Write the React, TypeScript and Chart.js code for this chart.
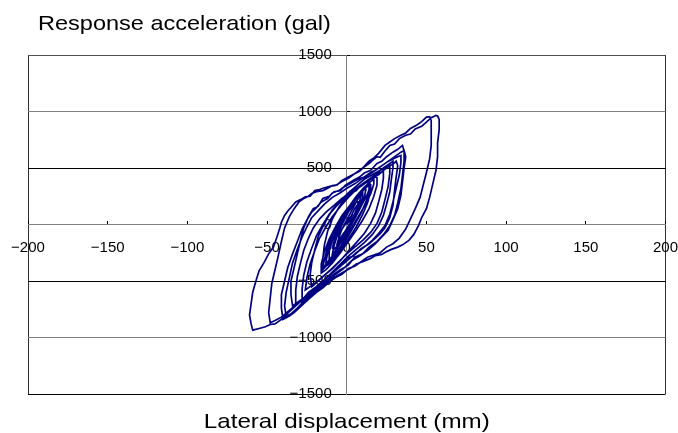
import React, { useEffect, useRef } from 'react';
import { Chart, registerables } from 'chart.js';

Chart.register(...registerables);

// ---- axis ranges and labels ----
const X_MIN = -200;
const X_MAX = 200;
const X_STEP = 50;
const Y_MIN = -1500;
const Y_MAX = 1500;
const Y_STEP = 500;
const yAxisTitle = 'Response acceleration (gal)';
const xAxisTitle = 'Lateral displacement (mm)';

// ---- hysteresis trace: [displacement mm, acceleration gal], in time order ----
const coreEarly: [number, number][] = [
  [0, 0], [3, 80], [5, 140], [6, 160], [6, 130], [4, 60], [1, -30], [-2, -100], [-5, -160], [-6, -170], [-5, -120], [-3, -40], [0, 40],
  [3, 120], [6, 200], [8, 250], [9, 260], [8, 200], [6, 110], [3, 10], [-1, -90], [-5, -190], [-8, -250], [-9, -260], [-8, -190], [-6, -100], [-3, 0],
  [1, 110], [5, 210], [9, 290], [11, 320], [12, 310], [11, 240], [8, 140], [4, 30], [0, -80], [-5, -190], [-9, -280], [-12, -330], [-13, -330], [-12, -250], [-10, -150], [-6, -40], [-2, 60],
  [3, 170], [8, 270], [12, 340], [14, 370], [15, 350], [13, 270], [9, 160], [5, 50], [0, -70], [-5, -190], [-10, -300], [-14, -370], [-15, -380], [-14, -310], [-12, -200], [-8, -80], [-4, 40],
  [1, 150], [6, 250], [11, 330], [15, 380], [17, 400], [17, 360], [15, 270], [11, 160], [6, 40], [1, -80], [-4, -200], [-9, -300], [-13, -370], [-15, -400],
];

const medLoop1: [number, number][] = [
  [-15, -300], [-14, -180], [-12, -60], [-9, 50], [-5, 150], [-1, 230], [3, 280], [6, 300], [9, 350], [13, 375], [16, 420], [20, 440], [23, 480], [27, 520], [30, 545], [31, 560],
  [32, 520], [31, 420], [30, 300], [29, 170], [27, 60], [24, -30], [21, -80], [18, -120], [14, -170], [9, -215], [4, -280], [0, -300], [-4, -370], [-9, -430], [-15, -500], [-20, -560], [-24, -600], [-27, -650], [-31, -690], [-34, -720],
];

const medLoop2: [number, number][] = [
  [-35, -620], [-35, -500], [-33, -380], [-31, -260], [-29, -140], [-27, -30], [-24, 70], [-21, 140], [-18, 160], [-15, 230], [-11, 250], [-8, 290], [-4, 300], [-1, 345], [4, 390], [8, 420], [11, 455], [15, 480], [19, 540], [22, 560], [25, 600], [29, 640], [32, 665], [35, 700],
  [36, 650], [36, 560], [35, 440], [34, 320], [32, 190], [30, 80], [27, -10], [23, -90], [19, -150], [14, -200], [10, -260], [5, -290], [1, -360], [-4, -400], [-8, -440], [-13, -500], [-18, -555], [-22, -600], [-26, -650], [-31, -700], [-36, -760], [-41, -820], [-45, -850], [-48, -870],
];

const bigLoop1: [number, number][] = [
  [-49, -780], [-48, -650], [-47, -520], [-45, -400], [-43, -280], [-41, -150], [-39, -30], [-36, 70], [-33, 140], [-30, 200], [-27, 230], [-24, 250], [-22, 275], [-19, 290], [-15, 300], [-12, 320], [-9, 345], [-6, 350], [-3, 390], [1, 420], [5, 450], [8, 470], [11, 510], [14, 540], [16, 565], [19, 600], [21, 595], [24, 650], [27, 700], [30, 712], [33, 760], [37, 790], [40, 800], [43, 845], [47, 870], [50, 905], [53, 945], [56, 965], [57, 960],
  [58, 930], [58, 840], [57, 720], [57, 600], [56, 480], [54, 360], [52, 240], [50, 140], [47, 60], [45, -10], [42, -90], [39, -140], [35, -180], [32, -200], [28, -220], [25, -240], [22, -265], [18, -275], [15, -300], [10, -330], [6, -350], [3, -380], [-2, -420], [-7, -460], [-11, -490], [-15, -540], [-20, -600], [-24, -640], [-28, -670], [-32, -720], [-36, -770], [-40, -830], [-43, -860], [-45, -880], [-48, -885], [-51, -905], [-55, -920], [-59, -935],
];

const bigLoop2: [number, number][] = [
  [-60, -880], [-61, -800], [-60, -700], [-59, -600], [-57, -500], [-55, -410], [-52, -340], [-49, -260], [-46, -200], [-44, -120], [-42, -30], [-41, 20], [-39, 80], [-37, 120], [-35, 150], [-32, 200], [-29, 220], [-26, 245], [-23, 250], [-20, 300], [-17, 310], [-14, 325], [-10, 340], [-7, 345], [-3, 380], [1, 410], [4, 440], [7, 470], [10, 500], [14, 560], [17, 590], [20, 630], [24, 700], [27, 730], [30, 760], [34, 790], [37, 810], [40, 850], [44, 880], [47, 910], [50, 950], [52, 955],
  [53, 920], [53, 820], [53, 700], [52, 580], [50, 460], [48, 350], [46, 240], [43, 140], [40, 50], [37, -40], [33, -120], [29, -170], [25, -200], [21, -250], [17, -270], [13, -290], [9, -330], [5, -370], [1, -390], [-3, -440], [-7, -470], [-11, -510], [-15, -560], [-19, -600], [-23, -650], [-27, -700], [-30, -740], [-33, -780], [-36, -810], [-40, -840],
];

const medLoop3: [number, number][] = [
  [-41, -740], [-41, -620], [-39, -500], [-37, -380], [-34, -260], [-31, -150], [-28, -40], [-25, 40], [-22, 110], [-19, 150], [-16, 200], [-12, 230], [-9, 280], [-5, 300], [-2, 330], [3, 370], [7, 400], [11, 420], [15, 460], [19, 490], [23, 530], [27, 570], [31, 610], [34, 640], [36, 655],
  [37, 600], [36, 500], [35, 380], [34, 260], [32, 140], [29, 40], [26, -50], [22, -110], [18, -170], [13, -230], [8, -280], [3, -320], [-2, -390], [-7, -440], [-12, -500], [-17, -560], [-22, -620], [-27, -680], [-31, -740], [-35, -790], [-38, -815],
];

const medLoop4: [number, number][] = [
  [-39, -720], [-38, -600], [-36, -470], [-34, -340], [-31, -220], [-28, -110], [-25, -20], [-22, 60], [-18, 120], [-14, 180], [-9, 240], [-4, 280], [0, 320], [5, 360], [10, 410], [15, 450], [20, 500], [25, 550], [29, 580], [32, 600], [34, 610],
  [34, 550], [33, 440], [31, 320], [29, 200], [27, 90], [24, -10], [20, -80], [16, -140], [11, -200], [6, -250], [1, -310], [-4, -370], [-9, -430], [-14, -490], [-19, -550], [-23, -600], [-27, -650], [-30, -690], [-32, -700],
];

const midLoopB: [number, number][] = [
  [-32, -580], [-31, -460], [-29, -340], [-27, -230], [-24, -120], [-21, -30], [-17, 50], [-13, 110], [-8, 170], [-3, 230], [2, 280], [7, 330], [12, 380], [17, 430], [21, 480], [25, 520], [28, 550], [29, 560],
  [29, 500], [28, 400], [27, 290], [25, 180], [23, 80], [20, -10], [16, -90], [11, -160], [6, -220], [1, -280], [-4, -350], [-9, -420], [-14, -490], [-19, -560], [-23, -620], [-26, -660], [-28, -680],
];

const midLoopA: [number, number][] = [
  [-28, -570], [-27, -450], [-25, -330], [-22, -210], [-19, -100], [-15, 0], [-11, 90], [-6, 170], [-1, 240], [4, 300], [9, 350], [14, 400], [18, 440], [21, 460], [23, 470],
  [23, 410], [22, 310], [20, 200], [18, 100], [15, 10], [11, -80], [6, -160], [1, -240], [-4, -320], [-9, -390], [-14, -450], [-18, -500], [-21, -540], [-22, -550],
];

const medLoop5: [number, number][] = [
  [-23, -450], [-22, -340], [-20, -220], [-18, -110], [-15, -20], [-12, 60], [-9, 130], [-4, 210], [1, 280], [6, 340], [11, 400], [16, 440], [21, 480], [25, 510], [27, 520],
  [27, 450], [26, 340], [24, 220], [22, 110], [19, 10], [15, -70], [10, -140], [5, -200], [0, -260], [-5, -330], [-10, -400], [-15, -460], [-19, -510], [-23, -550], [-26, -580],
];

const coreMid: [number, number][] = [
  [-25, -470], [-23, -350], [-20, -230], [-17, -120], [-13, -20], [-9, 70], [-4, 160], [1, 240], [6, 310], [11, 360], [15, 400], [18, 420], [19, 415],
  [19, 350], [17, 250], [14, 140], [10, 40], [6, -50], [1, -150], [-4, -250], [-9, -340], [-13, -400], [-16, -430],
  [-16, -350], [-14, -240], [-11, -130], [-7, -20], [-3, 80], [2, 170], [7, 250], [11, 310], [14, 350], [15, 350],
  [15, 290], [13, 190], [10, 90], [6, -20], [1, -130], [-4, -230], [-9, -320], [-12, -360], [-13, -360],
];

const coreLate: [number, number][] = [
  [-13, -280], [-11, -170], [-8, -60], [-4, 50], [1, 150], [6, 240], [10, 300], [13, 340], [14, 350],
  [14, 290], [12, 200], [9, 100], [5, 0], [1, -100], [-3, -190], [-7, -260], [-10, -300], [-11, -310],
  [-11, -240], [-9, -140], [-6, -40], [-2, 60], [2, 150], [6, 230], [9, 280], [10, 290],
  [10, 240], [8, 160], [5, 70], [1, -30], [-3, -120], [-6, -190], [-8, -220], [-9, -210],
  [-8, -150], [-6, -60], [-3, 30], [1, 110], [4, 170], [6, 200], [7, 200],
  [7, 160], [5, 90], [2, 10], [-1, -60], [-4, -120], [-5, -140], [-5, -100], [-3, -40], [0, 20], [2, 60], [3, 70], [2, 40], [0, 0],
];

const cycles = [
  coreEarly, medLoop1, medLoop2, bigLoop1, bigLoop2, medLoop3, medLoop4,
  midLoopB, midLoopA, medLoop5, coreMid, coreLate,
];

const fmt = (v: number) => (v < 0 ? '\u2212' + Math.abs(v) : String(v));

const xGridColor = (v: number) => {
  if (v === X_MIN || v === X_MAX) return '#303030';
  if (v === 0) return '#808080';
  return 'rgba(0,0,0,0)';
};

const yGridColor = (v: number) => {
  if (v === 0 || Math.abs(v) === 1000) return '#808080';
  if (v === Y_MAX) return '#505050';
  return '#000000';
};

const TITLE_STRETCH = 1.12;

const titlesPlugin = {
  id: 'cornerTitles',
  afterDraw(chart: any) {
    const { ctx, chartArea } = chart;
    ctx.save();
    ctx.fillStyle = '#000';
    ctx.font = '21px "Liberation Sans", Arial, sans-serif';
    ctx.textBaseline = 'alphabetic';
    ctx.save();
    ctx.translate(chartArea.left + 10, chartArea.top - 25);
    ctx.scale(TITLE_STRETCH, 1);
    ctx.textAlign = 'left';
    ctx.fillText(yAxisTitle, 0, 0);
    ctx.restore();
    ctx.save();
    ctx.translate((chartArea.left + chartArea.right) / 2, chartArea.bottom + 34);
    ctx.scale(1.15, 1);
    ctx.textAlign = 'center';
    ctx.fillText(xAxisTitle, 0, 0);
    ctx.restore();
    ctx.restore();
  },
};

export default function App() {
  const ref = useRef<HTMLCanvasElement | null>(null);

  useEffect(() => {
    if (!ref.current) return;
    const points = cycles.flat().map(([x, y]) => ({ x, y }));
    const chart = new Chart(ref.current, {
      type: 'scatter',
      data: {
        datasets: [
          {
            data: points,
            showLine: true,
            borderColor: '#000080',
            backgroundColor: '#000080',
            borderWidth: 1.7,
            pointRadius: 0,
            tension: 0,
          },
        ],
      },
      options: {
        responsive: false,
        animation: false,
        devicePixelRatio: 1,
        layout: { padding: { left: 28, right: 12, top: 55, bottom: 39 } },
        plugins: {
          legend: { display: false },
          tooltip: { enabled: false },
          title: { display: false },
        },
        scales: {
          x: {
            type: 'linear',
            position: { y: 0 } as any,
            min: X_MIN,
            max: X_MAX,
            ticks: {
              stepSize: X_STEP,
              padding: 0,
              color: '#000',
              font: { family: '"Liberation Sans", Arial, sans-serif', size: 15, lineHeight: 3.67 },
              callback: (v: any) => fmt(Number(v)),
              maxRotation: 0,
              autoSkip: false,
            },
            grid: {
              color: (c: any) => xGridColor(c.tick.value),
              lineWidth: 1,
              tickColor: '#000',
              tickLength: -4,
              drawTicks: true,
            },
            border: { display: true, color: '#808080', width: 1 },
          },
          y: {
            type: 'linear',
            position: { x: 0 } as any,
            min: Y_MIN,
            max: Y_MAX,
            ticks: {
              stepSize: Y_STEP,
              padding: 0,
              color: '#000',
              font: { family: '"Liberation Sans", Arial, sans-serif', size: 15 },
              callback: (v: any) => fmt(Number(v)) + '\u2002\u2002',
              autoSkip: false,
            },
            grid: {
              color: (c: any) => yGridColor(c.tick.value),
              lineWidth: 1,
              tickColor: '#000',
              tickLength: -4,
              drawTicks: true,
            },
            border: { display: true, color: '#808080', width: 1 },
          },
        },
      },
      plugins: [titlesPlugin],
    });
    return () => chart.destroy();
  }, []);

  return (
    <div style={{ position: 'absolute', left: 0, top: 0, width: 678, height: 433 }}>
      <canvas ref={ref} width={678} height={433} style={{ width: 678, height: 433, display: 'block' }} />
    </div>
  );
}
